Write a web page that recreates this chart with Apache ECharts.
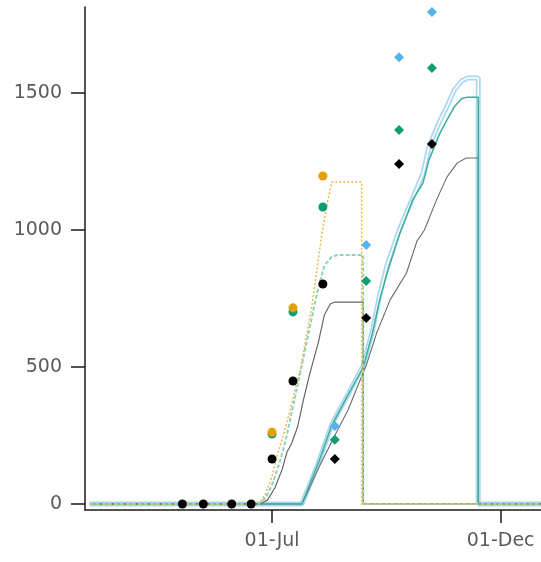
<!DOCTYPE html>
<html><head><meta charset="utf-8">
<script src="https://cdn.jsdelivr.net/npm/echarts@6/dist/echarts.min.js"></script>
<style>html,body{margin:0;padding:0;background:#fff}#c{width:541px;height:562px}</style>
</head><body><div id="c"></div>
<script>
// ---- data ----
const xTickDates = ['2021-07-01', '2021-12-01'];
const yTickValues = [0, 500, 1000, 1500];

// first season simulations
const grayS1Dates = ['2021-03-01','2021-06-23','2021-06-28','2021-07-03','2021-07-08','2021-07-11','2021-07-14','2021-07-18','2021-07-22','2021-07-26','2021-08-01','2021-08-05','2021-08-09','2021-08-12','2021-08-31','2021-08-31','2021-12-31'];
const grayS1Values = [0,0,15,60,130,190,220,280,380,470,590,690,730,737,737,0,0];

const orangeS1Dates = ['2021-03-01','2021-06-22','2021-06-26','2021-07-01','2021-07-04','2021-07-08','2021-07-13','2021-07-18','2021-07-20','2021-07-28','2021-08-03','2021-08-07','2021-08-10','2021-08-30','2021-08-30','2021-12-31'];
const orangeS1Values = [0,0,30,100,171,240,340,452,489,734,974,1100,1175,1175,0,0];

const greenS1Dates = ['2021-03-01','2021-06-22','2021-06-27','2021-07-01','2021-07-06','2021-07-10','2021-07-14','2021-07-18','2021-07-23','2021-07-28','2021-08-01','2021-08-05','2021-08-10','2021-08-14','2021-08-31','2021-08-31','2021-12-31'];
const greenS1Values = [0,0,25,70,150,230,330,430,560,690,790,870,903,909,909,0,0];

// second season simulations
const s2Dates = ['2021-03-01','2021-07-21','2021-08-01','2021-08-10','2021-08-20','2021-08-31','2021-09-06','2021-09-11','2021-09-16','2021-09-24','2021-10-03','2021-10-10','2021-10-14','2021-10-21','2021-10-26','2021-10-31','2021-11-05','2021-11-09','2021-11-16','2021-11-16','2021-12-31'];
const tealS2Values = [0,0,150,288,390,500,620,745,843,980,1109,1171,1255,1350,1401,1450,1480,1485,1485,0,0];
const blueS2Values = [0,0,150,290,392,505,628,762,872,998,1115,1205,1303,1395,1450,1511,1545,1555,1555,0,0];

const grayS2Dates = ['2021-03-01','2021-07-21','2021-08-02','2021-08-12','2021-08-21','2021-08-28','2021-09-02','2021-09-09','2021-09-18','2021-09-29','2021-10-06','2021-10-11','2021-10-19','2021-10-26','2021-11-02','2021-11-08','2021-11-16','2021-11-16','2021-12-31'];
const grayS2Values = [0,0,140,250,345,440,505,624,745,843,960,1000,1109,1193,1245,1263,1263,0,0];

// observations
const obsBlackS1Dates = ['2021-05-02','2021-05-16','2021-06-04','2021-06-17','2021-07-01','2021-07-15','2021-08-04'];
const obsBlackS1Values = [0,0,0,0,164,449,803];
const obsGreenS1Dates = ['2021-07-01','2021-07-15','2021-08-04'];
const obsGreenS1Values = [255,701,1084];
const obsOrangeS1Dates = ['2021-07-01','2021-07-15','2021-08-04'];
const obsOrangeS1Values = [262,716,1197];

const obsS2Dates = ['2021-08-12','2021-09-02','2021-09-24','2021-10-16'];
const obsBlackS2Values = [164,679,1241,1314];
const obsGreenS2Values = [234,814,1365,1591];
const obsBlueS2Values = [285,945,1631,1796];

// ---- helpers ----
const MONTHS = ['Jan','Feb','Mar','Apr','May','Jun','Jul','Aug','Sep','Oct','Nov','Dec'];
const DAY = 86400000;
function ts(s){const p=s.split('-').map(Number);return Date.UTC(p[0],p[1]-1,p[2]);}
function pairs(d,v){return d.map((s,i)=>[ts(s),v[i]]);}
const jul1 = ts('2021-07-01');
const xMin = jul1 - 125.2*DAY;
const xMax = jul1 + 180.0*DAY;

function lineSeries(d, v, style, z){
  return {type:'line', data:pairs(d,v), showSymbol:false, symbol:'none', lineStyle:style, z:z||2, silent:true, animation:false};
}
function scatterSeries(d, v, color, symbol, size){
  return {type:'scatter', data:pairs(d,v), symbol:symbol, symbolSize:size, itemStyle:{color:color, opacity:1}, z:5, animation:false};
}

const axisCol = '#1a1a1a';
const labelStyle = {color:'#5a5a5a', fontSize:19, fontFamily:'DejaVu Sans'};

const chart = echarts.init(document.getElementById('c'), null, {renderer:'canvas'});
chart.setOption({
  animation:false,
  grid:{left:85, right:0, top:7, bottom:52, containLabel:false},
  xAxis:{
    type:'value', min:xMin, max:xMax,
    splitLine:{show:false},
    axisLine:{show:true, onZero:false, lineStyle:{color:axisCol, width:1.5}},
    axisTick:{show:true, length:13, lineStyle:{color:axisCol, width:1.5}, customValues:xTickDates.map(ts)},
    axisLabel:{...labelStyle, margin:22, customValues:xTickDates.map(ts),
      formatter:function(v){const d=new Date(v);return String(d.getUTCDate()).padStart(2,'0')+'-'+MONTHS[d.getUTCMonth()];}}
  },
  yAxis:{
    type:'value', min:-22, max:1814,
    splitLine:{show:false},
    axisLine:{show:true, lineStyle:{color:axisCol, width:1.5}},
    axisTick:{show:true, length:14, lineStyle:{color:axisCol, width:1.5}, customValues:yTickValues},
    axisLabel:{...labelStyle, margin:23, customValues:yTickValues, formatter:function(v){return String(v);}}
  },
  series:[
    lineSeries(s2Dates, blueS2Values, {color:'#a9d6f2', width:5}, 2),
    lineSeries(s2Dates, blueS2Values, {color:'#ffffff', width:1.6}, 2),
    lineSeries(grayS2Dates, grayS2Values, {color:'#6b6b6b', width:1.1}, 3),
    lineSeries(s2Dates, tealS2Values, {color:'#3aae97', width:1.5}, 3),
    lineSeries(grayS1Dates, grayS1Values, {color:'#666', width:1.2}, 3),
    lineSeries(greenS1Dates, greenS1Values, {color:'#8fd3bd', width:2, type:[4,2]}, 3),
    lineSeries(orangeS1Dates, orangeS1Values, {color:'#efb548', width:1.5, type:[2,2]}, 3),
    scatterSeries(obsBlackS1Dates, obsBlackS1Values, '#000', 'circle', 9),
    scatterSeries(obsGreenS1Dates, obsGreenS1Values, '#0d9e76', 'circle', 9),
    scatterSeries(obsOrangeS1Dates, obsOrangeS1Values, '#e69f00', 'circle', 9),
    scatterSeries(obsS2Dates, obsBlackS2Values, '#000', 'diamond', 10),
    scatterSeries(obsS2Dates, obsGreenS2Values, '#0d9e76', 'diamond', 10),
    scatterSeries(obsS2Dates, obsBlueS2Values, '#56b4e9', 'diamond', 10)
  ]
});
</script></body></html>
